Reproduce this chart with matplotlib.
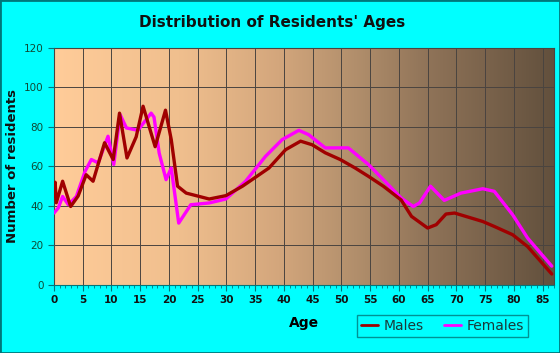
import numpy as np
import matplotlib.pyplot as plt
from matplotlib.colors import LinearSegmentedColormap
from matplotlib.patches import Rectangle

# ---------- data ----------
male_age = [0.0, 0.2, 0.4, 1.5, 2.9, 4.2, 5.6, 6.8, 8.8, 10.3, 11.4, 12.7, 14.3,
            15.5, 17.6, 19.4, 20.4, 21.5, 23.0, 27.0, 29.9, 32.8, 37.4, 40.3,
            42.9, 44.9, 47.2, 49.8, 52.4, 54.7, 57.3, 60.4, 62.2, 65.0, 66.5,
            68.2, 69.7, 74.6, 76.6, 79.8, 82.4, 84.7, 86.6]
male_val = [45, 52, 41.6, 52.5, 39.7, 45, 55.8, 52.5, 72, 63.5, 87, 64.3, 75,
            90.5, 70, 88.5, 73.6, 50, 46.5, 43.5, 45.2, 50, 59.2, 68.5,
            72.8, 71, 66.9, 63.5, 59.2, 55, 50, 43, 34.7, 28.8, 30.5,
            35.9, 36.4, 32.1, 29.6, 25.4, 19.4, 11.8, 5.5]

female_age = [0.0, 0.75, 1.5, 2.5, 3.9, 5.4, 6.5, 7.7, 9.4, 10.4, 11.5, 12.6,
              14.6, 16.9, 17.4, 18.3, 19.5, 20.4, 21.7, 23.8, 27.0, 29.9, 33.3,
              36.8, 39.7, 42.6, 44.3, 47.2, 51.2, 54.7, 57.6, 60.4, 62.5, 63.6,
              65.5, 67.9, 70.8, 74.6, 76.6, 79.8, 82.4, 86.6]
female_val = [36.4, 39, 44.8, 40.6, 44.8, 57.5, 63.5, 61.8, 75.3, 61, 86.3, 79.5,
              78.3, 87, 85, 66.8, 53.3, 59.2, 31.3, 40.6, 41.5, 43.5, 52.4,
              65.1, 73.6, 78.3, 76.1, 69.4, 69.4, 61, 52.4, 44, 39.7, 41.5,
              50, 42.8, 46.5, 48.7, 47.4, 35.5, 23.7, 9.5]

x_ticks = list(range(0, 90, 5))
y_ticks = list(range(0, 140, 20))

# ---------- figure ----------
fig = plt.figure(figsize=(5.6, 3.53), dpi=100, facecolor='#00FFFF')
ax = fig.add_axes([0.0964, 0.193, 0.893, 0.671])

xmax = 87
# horizontal background gradient (light peach -> dark brown)
cmap = LinearSegmentedColormap.from_list(
    'bg', [(0.0, '#FFCC99'), (0.25, '#F0BF8E'), (0.45, '#D3A67C'),
           (0.6, '#B28F6C'), (0.75, '#8F7358'), (1.0, '#62503D')])
grad = np.linspace(0, 1, 256).reshape(1, -1)
ax.imshow(grad, extent=[0, xmax, 0, 120], aspect='auto', cmap=cmap, zorder=0)

ax.set_xlim(0, xmax)
ax.set_ylim(0, 120)
ax.set_xticks(x_ticks)
ax.set_xticks(range(0, xmax + 1), minor=True)
ax.set_yticks(y_ticks)
ax.grid(True, color='#4a4440', linewidth=0.7, zorder=1)
ax.set_axisbelow(False)

ax.plot(female_age, female_val, color='#FF00FF', linewidth=2.4, solid_joinstyle='round',
        solid_capstyle='round', label='Females', zorder=3)
ax.plot(male_age, male_val, color='#A00000', linewidth=2.4, solid_joinstyle='round',
        solid_capstyle='round', label='Males', zorder=4)

for side in ['top', 'right']:
    ax.spines[side].set_color('#4a4440')
for side in ['left', 'bottom']:
    ax.spines[side].set_color('#00777A')
ax.tick_params(axis='both', colors='#00777A', labelsize=7.5, length=4)
ax.tick_params(axis='y', labelcolor='#0f4a35')
ax.tick_params(axis='x', labelcolor='#111111')
ax.tick_params(axis='x', which='minor', colors='#00777A', length=2.5)
for lbl in ax.get_xticklabels():
    lbl.set_fontweight('bold')

ax.set_xlabel('Age', fontsize=10, fontweight='bold', labelpad=8)
fig.text(13 / 560, 1 - 166 / 353, 'Number of residents', rotation=90, ha='center',
         va='center', fontsize=9.5, fontweight='bold', color='#111111')

fig.text(0.486, 0.935, "Distribution of Residents' Ages", ha='center', va='center',
         fontsize=11, fontweight='bold', color='#111111')

handles, labels = ax.get_legend_handles_labels()
leg = fig.legend(handles[::-1], labels[::-1], loc='center', bbox_to_anchor=(0.79, 0.077),
                 ncol=2, fontsize=10, frameon=True, fancybox=False, handlelength=1.2,
                 handletextpad=0.4, columnspacing=1.5, borderpad=0.3)
leg.get_frame().set_facecolor('#00FFFF')
leg.get_frame().set_edgecolor('#00777A')
for t in leg.get_texts():
    t.set_color('#1a3a3a')
for h in leg.get_lines():
    h.set_linewidth(2)

fig.patches.append(Rectangle((0, 0), 1, 1, transform=fig.transFigure, fill=False,
                             edgecolor='#00777A', linewidth=2))

fig.savefig('out.png', dpi=100, facecolor=fig.get_facecolor())
